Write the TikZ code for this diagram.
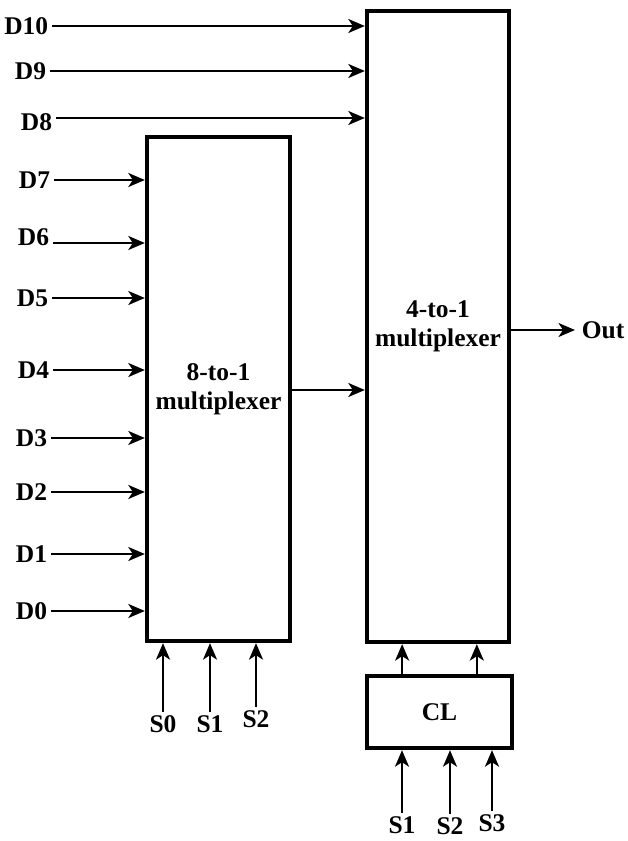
\documentclass[tikz,border=0pt]{standalone}
\usepackage{fontspec}
\setmainfont{Liberation Serif}
\usetikzlibrary{positioning, calc, arrows.meta}

\begin{document}
\begin{tikzpicture}[
x=0.02cm, y=-0.02cm,
font=\fontsize{14.5}{16.5}\selectfont\bfseries,
box/.style={rectangle, draw, line width=2.5pt, align=center, inner sep=0pt},
sig/.style={inner sep=2pt},
arrow/.style={-{Stealth[length=3.3mm, width=2.8mm, inset=0.9mm]}, line width=1.2pt}
]
\useasboundingbox (0,0) rectangle (628,841);

% --- Blocs ---
\node[box, minimum width=2.86cm, minimum height=10.08cm] (mux8) at (218.5,389) {8-to-1\\multiplexer};
\node[box, minimum width=2.84cm, minimum height=12.62cm] (mux4) at (438,326.5) {4-to-1\\multiplexer};
\node[box, minimum width=2.9cm, minimum height=1.44cm] (cl) at (439.5,712) {CL};

% --- Entrees du 4-to-1 ---
\node[sig, anchor=east] (d10) at (52,26) {D10};
\node[sig, anchor=east] (d9) at (50,71) {D9};
\node[sig, anchor=east] (d8) at (56,122) {D8};
\draw[arrow] (d10.east) -- (d10.east -| mux4.west);
\draw[arrow] (d9.east) -- (d9.east -| mux4.west);
\draw[arrow] ([yshift=0.08cm]d8.east) -- ([yshift=0.08cm]d8.east -| mux4.west);

% --- Entrees du 8-to-1 ---
\node[sig, anchor=east] (d7) at (54,180) {D7};
\node[sig, anchor=east] (d6) at (53,237) {D6};
\node[sig, anchor=east] (d5) at (52,298) {D5};
\node[sig, anchor=east] (d4) at (53,370) {D4};
\node[sig, anchor=east] (d3) at (51,438) {D3};
\node[sig, anchor=east] (d2) at (51,492) {D2};
\node[sig, anchor=east] (d1) at (51,554) {D1};
\node[sig, anchor=east] (d0) at (51,611) {D0};
\draw[arrow] (d7.east) -- (d7.east -| mux8.west);
\draw[arrow] ([yshift=-0.12cm]d6.east) -- ([yshift=-0.12cm]d6.east -| mux8.west);
\draw[arrow] (d5.east) -- (d5.east -| mux8.west);
\draw[arrow] (d4.east) -- (d4.east -| mux8.west);
\draw[arrow] (d3.east) -- (d3.east -| mux8.west);
\draw[arrow] (d2.east) -- (d2.east -| mux8.west);
\draw[arrow] (d1.east) -- (d1.east -| mux8.west);
\draw[arrow] (d0.east) -- (d0.east -| mux8.west);

% --- Liaison et sortie ---
\draw[arrow] ([yshift=-0.02cm]mux8.east) -- ([yshift=-0.02cm]mux8.east -| mux4.west);
\node[sig, anchor=west] (out) at (578,330) {Out};
\draw[arrow] (out.west -| mux4.east) -- ([xshift=-0.06cm]out.west);

% --- Selections du 8-to-1 ---
\node[sig, anchor=north] (s0) at (163,712) {S0};
\node[sig, anchor=north] (s1a) at (210,712) {S1};
\node[sig, anchor=north] (s2a) at (256,707) {S2};
\draw[arrow] (s0.north) -- (s0.north |- mux8.south);
\draw[arrow] (s1a.north) -- (s1a.north |- mux8.south);
\draw[arrow] (s2a.north) -- (s2a.north |- mux8.south);

% --- Logique de commande ---
\coordinate (c1) at ($(cl.north west)!0.25!(cl.north east)$);
\coordinate (c2) at ($(cl.north west)!0.75!(cl.north east)$);
\draw[arrow] (c1) -- (c1 |- mux4.south);
\draw[arrow] (c2) -- (c2 |- mux4.south);
\node[sig, anchor=north] (s1b) at (402,813) {S1};
\node[sig, anchor=north] (s2b) at (450,814) {S2};
\node[sig, anchor=north] (s3b) at (492,811) {S3};
\draw[arrow] (s1b.north) -- (s1b.north |- cl.south);
\draw[arrow] (s2b.north) -- (s2b.north |- cl.south);
\draw[arrow] (s3b.north) -- (s3b.north |- cl.south);

\end{tikzpicture}
\end{document}
